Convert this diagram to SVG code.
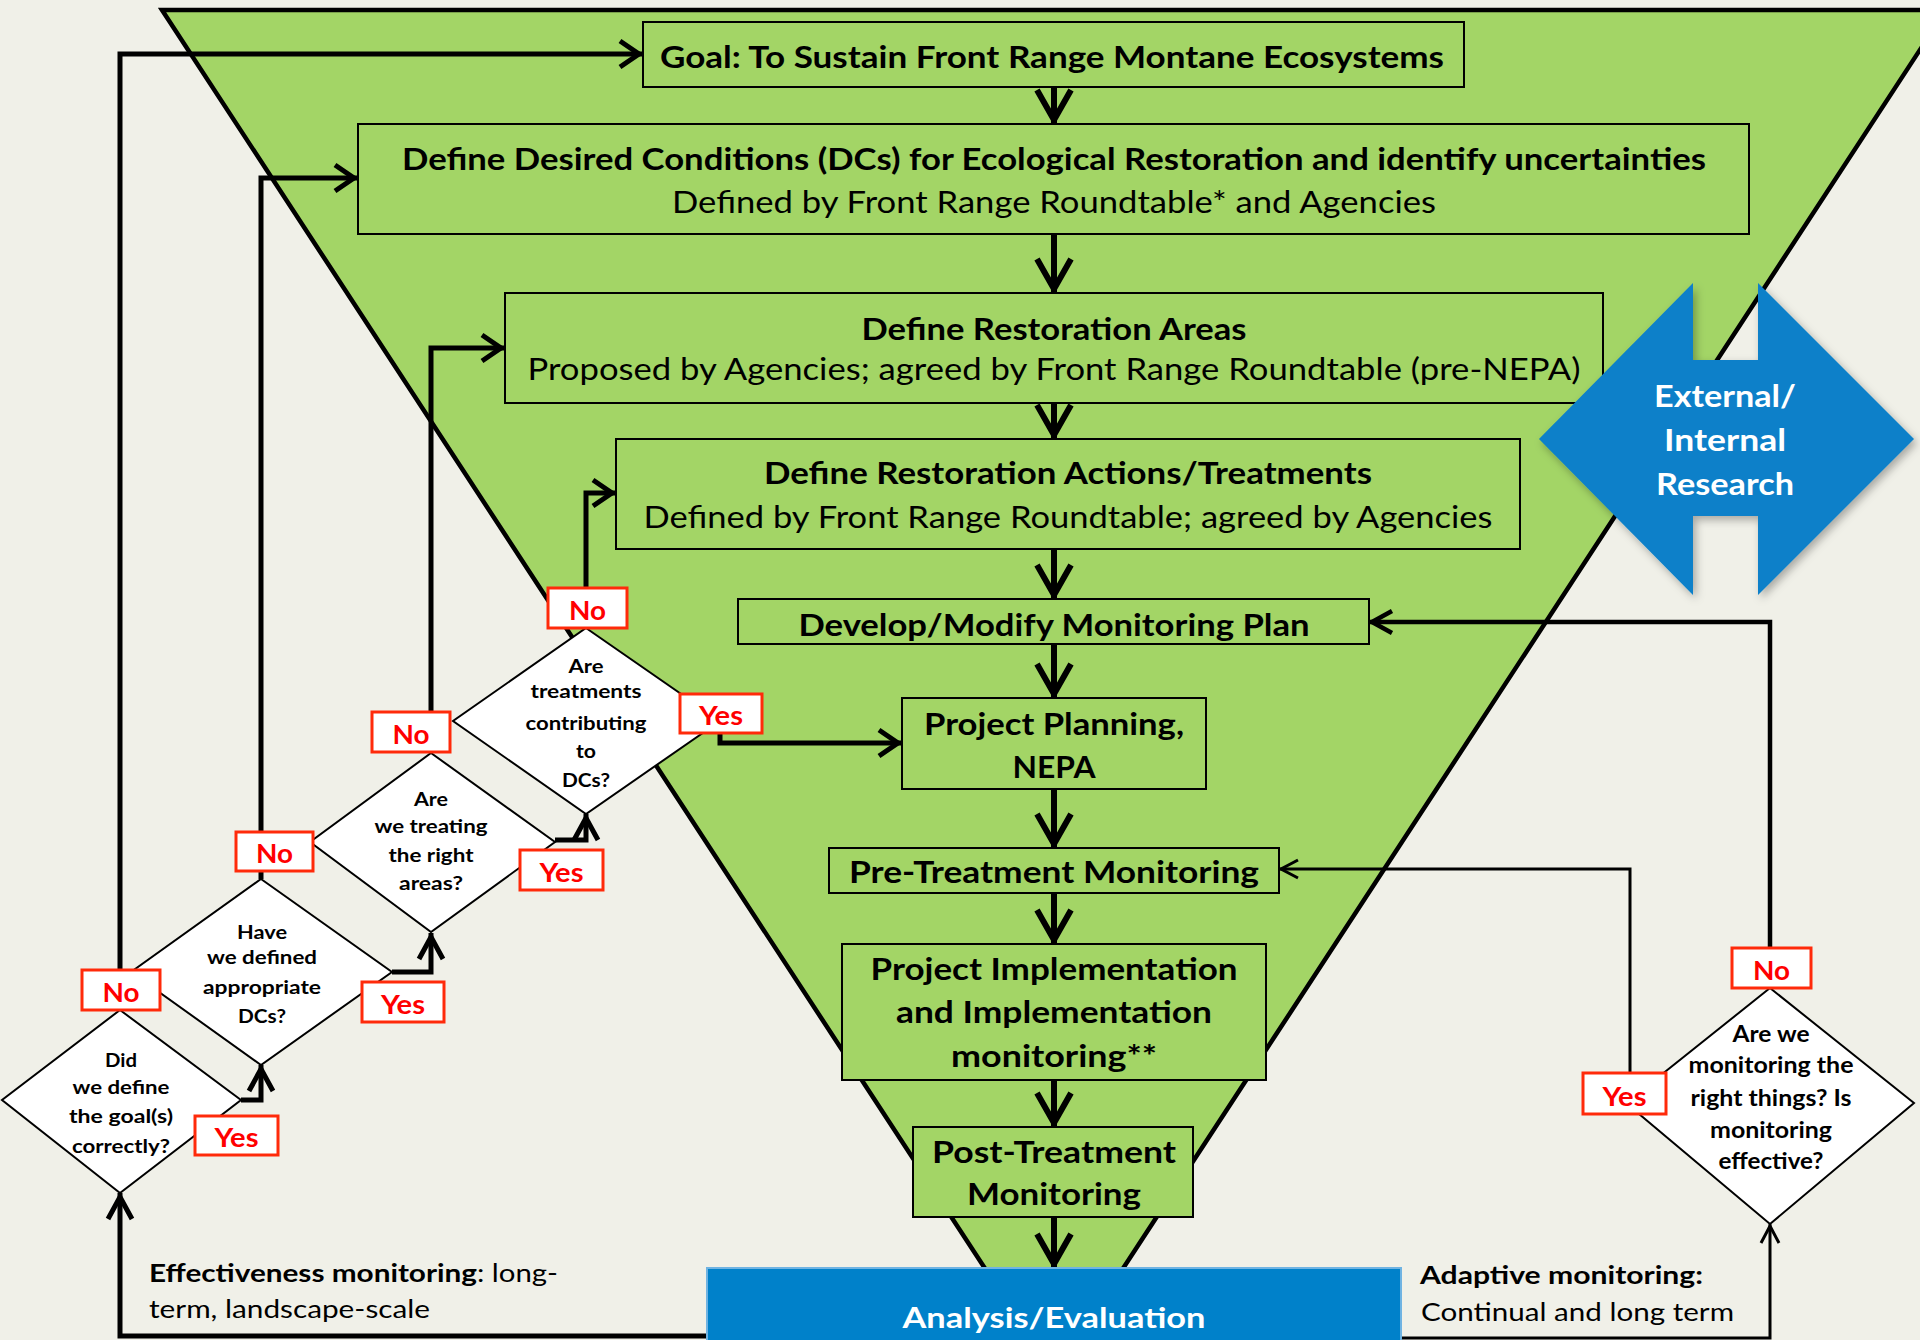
<svg xmlns="http://www.w3.org/2000/svg" width="1920" height="1340" viewBox="0 0 1920 1340">
<style>
text { font-family: Lato, "Open Sans", "Liberation Sans", sans-serif; }
.b { font-weight: bold; }
.m { text-anchor: middle; }
.box { fill: #A3D566; stroke: #000; stroke-width: 2; }
.dia { fill: #fff; stroke: #000; stroke-width: 2; }
.lab { fill: #fff; stroke: #FF2A0A; stroke-width: 3; }
.labt { font-size: 26px; font-weight: bold; fill: #FF0000; text-anchor: middle; }
.bt { font-size: 30px; fill: #000; }
.dt { font-size: 19px; font-weight: bold; fill: #000; text-anchor: middle; }
.dt5 { font-size: 22px; font-weight: bold; fill: #000; text-anchor: middle; }
.ann { font-size: 25px; fill: #000; }
.conn { fill: none; stroke: #000; stroke-linejoin: miter; }
.w6 { stroke-width: 6; }
.w5 { stroke-width: 5; }
.w4 { stroke-width: 4.5; }
.w3 { stroke-width: 3; }
</style>
<defs>
<marker id="aMain" markerUnits="userSpaceOnUse" orient="auto" refX="0" refY="0" overflow="visible">
<path d="M-34,-17 L-4,0 L-34,17" fill="none" stroke="#000" stroke-width="6"/>
</marker>
<marker id="aMed" markerUnits="userSpaceOnUse" orient="auto" refX="0" refY="0" overflow="visible">
<path d="M-23,-13 L-4,0 L-23,13" fill="none" stroke="#000" stroke-width="5"/>
</marker>
<marker id="aSm" markerUnits="userSpaceOnUse" orient="auto" refX="0" refY="0" overflow="visible">
<path d="M-26,-12 L-4,0 L-26,12" fill="none" stroke="#000" stroke-width="5"/>
</marker>
<marker id="aNo5" markerUnits="userSpaceOnUse" orient="auto" refX="0" refY="0" overflow="visible">
<path d="M-23,-11 L-3,0 L-23,11" fill="none" stroke="#000" stroke-width="4.5"/>
</marker>
<marker id="aThin" markerUnits="userSpaceOnUse" orient="auto" refX="0" refY="0" overflow="visible">
<path d="M-19,-9 L-2,0 L-19,9" fill="none" stroke="#000" stroke-width="3"/>
</marker>
<filter id="sh" x="-10%" y="-10%" width="130%" height="130%">
<feDropShadow dx="3" dy="4" stdDeviation="4" flood-color="#000" flood-opacity="0.3"/>
</filter>
</defs>

<rect x="0" y="0" width="1920" height="1340" fill="#F0F0E8"/>

<g id="funnel">
<polygon points="162,10 1946,10 1054,1374" fill="#A3D566" stroke="#000" stroke-width="4.5" stroke-linejoin="miter"/>
</g>

<g id="connectors">
<path class="conn w5" d="M120,1010 V54 H643" marker-end="url(#aMed)"/>
<path class="conn w5" d="M261,879 V178 H358" marker-end="url(#aMed)"/>
<path class="conn w5" d="M431,753 V348 H505" marker-end="url(#aMed)"/>
<path class="conn w5" d="M586,628 V493 H616" marker-end="url(#aMed)"/>
<path class="conn w5" d="M241,1100 H261 V1065" marker-end="url(#aSm)"/>
<path class="conn w5" d="M392,972 H431 V933" marker-end="url(#aSm)"/>
<path class="conn w5" d="M555,840 H586 V814" marker-end="url(#aSm)"/>
<path class="conn w5" d="M720,728 V743 H902" marker-end="url(#aMed)"/>
<path class="conn w6" d="M1054,87 V124" marker-end="url(#aMain)"/>
<path class="conn w6" d="M1054,234 V293" marker-end="url(#aMain)"/>
<path class="conn w6" d="M1054,403 V439" marker-end="url(#aMain)"/>
<path class="conn w6" d="M1054,549 V599" marker-end="url(#aMain)"/>
<path class="conn w6" d="M1054,644 V698" marker-end="url(#aMain)"/>
<path class="conn w6" d="M1054,789 V848" marker-end="url(#aMain)"/>
<path class="conn w6" d="M1054,893 V944" marker-end="url(#aMain)"/>
<path class="conn w6" d="M1054,1080 V1127" marker-end="url(#aMain)"/>
<path class="conn w6" d="M1054,1217 V1268" marker-end="url(#aMain)"/>
<path class="conn w5" d="M720,1336 H120 V1193" marker-end="url(#aSm)"/>
<path class="conn w3" d="M1390,1338 H1770 V1224" marker-end="url(#aThin)"/>
<path class="conn w4" d="M1770,990 V622 H1369" marker-end="url(#aNo5)"/>
<path class="conn w3" d="M1630,1075 V869 H1279" marker-end="url(#aThin)"/>
</g>

<g id="goal">
<rect class="box" x="643" y="22" width="821" height="65"/>
<text class="bt b m" x="1052" y="68" textLength="784" lengthAdjust="spacingAndGlyphs">Goal: To Sustain Front Range Montane Ecosystems</text>
</g>

<g id="desired-conditions">
<rect class="box" x="358" y="124" width="1391" height="110"/>
<text class="bt b m" x="1054" y="170" textLength="1304" lengthAdjust="spacingAndGlyphs">Define Desired Conditions (DCs) for Ecological Restoration and identify uncertainties</text>
<text class="bt m" x="1054" y="213" textLength="764" lengthAdjust="spacingAndGlyphs">Defined by Front Range Roundtable* and Agencies</text>
</g>

<g id="restoration-areas">
<rect class="box" x="505" y="293" width="1098" height="110"/>
<text class="bt b m" x="1054" y="340" textLength="385" lengthAdjust="spacingAndGlyphs">Define Restoration Areas</text>
<text class="bt m" x="1054" y="380" textLength="1053" lengthAdjust="spacingAndGlyphs">Proposed by Agencies; agreed by Front Range Roundtable (pre-NEPA)</text>
</g>

<g id="restoration-actions">
<rect class="box" x="616" y="439" width="904" height="110"/>
<text class="bt b m" x="1068" y="484" textLength="608" lengthAdjust="spacingAndGlyphs">Define Restoration Actions/Treatments</text>
<text class="bt m" x="1068" y="528" textLength="849" lengthAdjust="spacingAndGlyphs">Defined by Front Range Roundtable; agreed by Agencies</text>
</g>

<g id="monitoring-plan">
<rect class="box" x="738" y="599" width="631" height="45"/>
<text class="bt b m" x="1054" y="636" textLength="511" lengthAdjust="spacingAndGlyphs">Develop/Modify Monitoring Plan</text>
</g>

<g id="project-planning">
<rect class="box" x="902" y="698" width="304" height="91"/>
<text class="bt b m" x="1054" y="735" textLength="260" lengthAdjust="spacingAndGlyphs">Project Planning,</text>
<text class="bt b m" x="1054" y="778" textLength="83" lengthAdjust="spacingAndGlyphs">NEPA</text>
</g>

<g id="pre-treatment">
<rect class="box" x="829" y="848" width="450" height="45"/>
<text class="bt b m" x="1054" y="883" textLength="410" lengthAdjust="spacingAndGlyphs">Pre-Treatment Monitoring</text>
</g>

<g id="implementation">
<rect class="box" x="842" y="944" width="424" height="136"/>
<text class="bt b m" x="1054" y="980" textLength="367" lengthAdjust="spacingAndGlyphs">Project Implementation</text>
<text class="bt b m" x="1054" y="1023" textLength="316" lengthAdjust="spacingAndGlyphs">and Implementation</text>
<text class="bt b m" x="1054" y="1067" textLength="206" lengthAdjust="spacingAndGlyphs">monitoring**</text>
</g>

<g id="post-treatment">
<rect class="box" x="913" y="1127" width="280" height="90"/>
<text class="bt b m" x="1054" y="1163" textLength="244" lengthAdjust="spacingAndGlyphs">Post-Treatment</text>
<text class="bt b m" x="1054" y="1205" textLength="174" lengthAdjust="spacingAndGlyphs">Monitoring</text>
</g>

<g id="analysis">
<rect x="707" y="1268" width="694" height="90" fill="#0081CA" stroke="#6FB3E2" stroke-width="2"/>
<text class="b m" x="1054" y="1328" font-size="28" fill="#fff" textLength="303" lengthAdjust="spacingAndGlyphs">Analysis/Evaluation</text>
</g>

<g id="research">
<polygon points="1539,439 1693,283 1693,360 1758,360 1758,283 1914,439 1758,595 1758,516 1693,516 1693,595" fill="#0A80C9" filter="url(#sh)"/>
<text class="b m" x="1725" y="407" font-size="31" fill="#fff" textLength="142" lengthAdjust="spacingAndGlyphs">External/</text>
<text class="b m" x="1725" y="451" font-size="31" fill="#fff" textLength="122" lengthAdjust="spacingAndGlyphs">Internal</text>
<text class="b m" x="1725" y="495" font-size="31" fill="#fff" textLength="138" lengthAdjust="spacingAndGlyphs">Research</text>
</g>

<g id="q-goal">
<polygon class="dia" points="120,1010 241,1100 120,1193 2,1100"/>
<text class="dt" x="121" y="1067" textLength="32" lengthAdjust="spacingAndGlyphs">Did</text>
<text class="dt" x="121" y="1094" textLength="97" lengthAdjust="spacingAndGlyphs">we define</text>
<text class="dt" x="121" y="1123" textLength="104" lengthAdjust="spacingAndGlyphs">the goal(s)</text>
<text class="dt" x="121" y="1153" textLength="98" lengthAdjust="spacingAndGlyphs">correctly?</text>
</g>

<g id="q-dcs">
<polygon class="dia" points="261,879 392,972 261,1065 131,972"/>
<text class="dt" x="262" y="939" textLength="50" lengthAdjust="spacingAndGlyphs">Have</text>
<text class="dt" x="262" y="964" textLength="110" lengthAdjust="spacingAndGlyphs">we defined</text>
<text class="dt" x="262" y="994" textLength="118" lengthAdjust="spacingAndGlyphs">appropriate</text>
<text class="dt" x="262" y="1023" textLength="48" lengthAdjust="spacingAndGlyphs">DCs?</text>
</g>

<g id="q-areas">
<polygon class="dia" points="431,753 555,842 431,932 310,842"/>
<text class="dt" x="431" y="806" textLength="34" lengthAdjust="spacingAndGlyphs">Are</text>
<text class="dt" x="431" y="833" textLength="113" lengthAdjust="spacingAndGlyphs">we treating</text>
<text class="dt" x="431" y="862" textLength="85" lengthAdjust="spacingAndGlyphs">the right</text>
<text class="dt" x="431" y="890" textLength="64" lengthAdjust="spacingAndGlyphs">areas?</text>
</g>

<g id="q-treatments">
<polygon class="dia" points="586,628 720,721 586,814 453,721"/>
<text class="dt" x="586" y="673" textLength="35" lengthAdjust="spacingAndGlyphs">Are</text>
<text class="dt" x="586" y="698" textLength="111" lengthAdjust="spacingAndGlyphs">treatments</text>
<text class="dt" x="586" y="730" textLength="121" lengthAdjust="spacingAndGlyphs">contributing</text>
<text class="dt" x="586" y="758" textLength="20" lengthAdjust="spacingAndGlyphs">to</text>
<text class="dt" x="586" y="787" textLength="48" lengthAdjust="spacingAndGlyphs">DCs?</text>
</g>

<g id="q-monitoring">
<polygon class="dia" points="1770,988 1914,1103 1770,1224 1626,1103"/>
<text class="dt5" x="1771" y="1042" textLength="77" lengthAdjust="spacingAndGlyphs">Are we</text>
<text class="dt5" x="1771" y="1073" textLength="165" lengthAdjust="spacingAndGlyphs">monitoring the</text>
<text class="dt5" x="1771" y="1106" textLength="161" lengthAdjust="spacingAndGlyphs">right things? Is</text>
<text class="dt5" x="1771" y="1138" textLength="122" lengthAdjust="spacingAndGlyphs">monitoring</text>
<text class="dt5" x="1771" y="1169" textLength="105" lengthAdjust="spacingAndGlyphs">effective?</text>
</g>

<g id="labels">
<rect class="lab" x="548" y="588" width="79" height="40"/>
<text class="labt" x="587.5" y="620" textLength="37" lengthAdjust="spacingAndGlyphs">No</text>
<rect class="lab" x="680" y="694" width="82" height="39"/>
<text class="labt" x="721" y="725" textLength="44" lengthAdjust="spacingAndGlyphs">Yes</text>
<rect class="lab" x="372" y="712" width="78" height="40"/>
<text class="labt" x="411" y="744" textLength="37" lengthAdjust="spacingAndGlyphs">No</text>
<rect class="lab" x="520" y="850" width="83" height="40"/>
<text class="labt" x="561.5" y="882" textLength="44" lengthAdjust="spacingAndGlyphs">Yes</text>
<rect class="lab" x="236" y="832" width="77" height="39"/>
<text class="labt" x="274.5" y="863" textLength="37" lengthAdjust="spacingAndGlyphs">No</text>
<rect class="lab" x="362" y="982" width="82" height="40"/>
<text class="labt" x="403" y="1014" textLength="44" lengthAdjust="spacingAndGlyphs">Yes</text>
<rect class="lab" x="82" y="970" width="78" height="40"/>
<text class="labt" x="121" y="1002" textLength="37" lengthAdjust="spacingAndGlyphs">No</text>
<rect class="lab" x="195" y="1116" width="83" height="39"/>
<text class="labt" x="236.5" y="1147" textLength="44" lengthAdjust="spacingAndGlyphs">Yes</text>
<rect class="lab" x="1732" y="948" width="79" height="40"/>
<text class="labt" x="1771.5" y="980" textLength="37" lengthAdjust="spacingAndGlyphs">No</text>
<rect class="lab" x="1583" y="1073" width="83" height="41"/>
<text class="labt" x="1624.5" y="1106" textLength="44" lengthAdjust="spacingAndGlyphs">Yes</text>
</g>

<g id="annotations">
<text class="ann b" x="149" y="1282" textLength="328" lengthAdjust="spacingAndGlyphs">Effectiveness monitoring</text>
<text class="ann" x="477" y="1282" textLength="81" lengthAdjust="spacingAndGlyphs">: long-</text>
<text class="ann" x="149" y="1318" textLength="281" lengthAdjust="spacingAndGlyphs">term, landscape-scale</text>
<text class="ann b" x="1420" y="1284" textLength="283" lengthAdjust="spacingAndGlyphs">Adaptive monitoring:</text>
<text class="ann" x="1421" y="1321" textLength="313" lengthAdjust="spacingAndGlyphs">Continual and long term</text>
</g>
</svg>
